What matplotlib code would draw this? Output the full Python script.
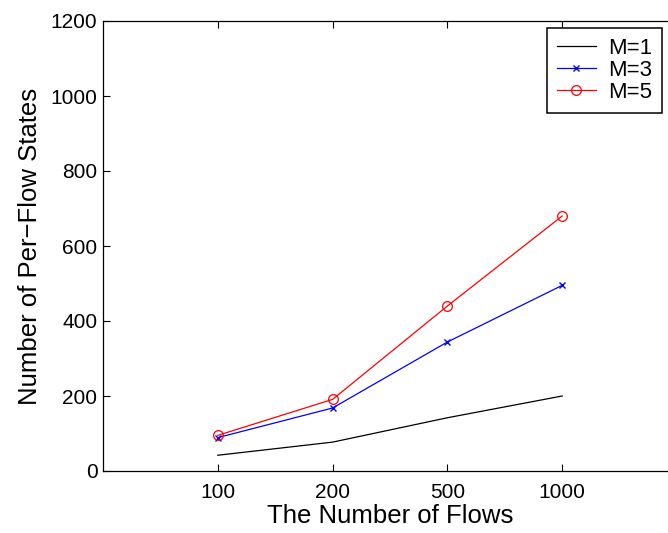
import matplotlib
matplotlib.use("Agg")
import matplotlib.pyplot as plt

flows = ["100", "200", "500", "1000"]
m1 = [42, 77, 142, 200]
m3 = [89, 168, 344, 495]
m5 = [95, 191, 440, 680]

plt.rcParams["font.family"] = ["Liberation Sans", "DejaVu Sans"]

fig = plt.figure(figsize=(6.68, 5.33), dpi=100)
ax = fig.add_axes([103 / 668, 62 / 533, 574 / 668, 450 / 533])

pos = range(1, len(flows) + 1)
ax.plot(pos, m1, color="black", lw=0.9, label="M=1")
ax.plot(pos, m3, color="blue", lw=0.9, marker="x", ms=5, mew=1, label="M=3")
ax.plot(pos, m5, color="red", lw=0.9, marker="o", ms=7, mfc="none", mew=0.9, label="M=5")

ax.set_xlim(0, 5)
ax.set_ylim(0, 1200)
ax.set_xticks(list(pos))
ax.set_xticklabels(flows)
ax.set_yticks(range(0, 1201, 200))
ax.tick_params(direction="in", top=True, right=True, labelsize=15, length=5, width=0.8)
ax.tick_params(axis="x", pad=9)
ax.tick_params(axis="y", pad=4)
for s in ax.spines.values():
    s.set_linewidth(0.9)

ax.set_xlabel("The Number of Flows", fontsize=18.5, labelpad=1)
ax.set_ylabel("Number of Per\u2212Flow States", fontsize=18.5, labelpad=6)

leg = ax.legend(loc="upper left", bbox_to_anchor=(444 / 574, 1 - 7 / 450), fontsize=16,
                fancybox=False, edgecolor="black", framealpha=1, handlelength=1.75,
                borderaxespad=0, borderpad=0.45, labelspacing=0.05, handletextpad=0.55,
                handleheight=0.7)
leg.get_frame().set_linewidth(1.1)

fig.savefig("out.png", dpi=100, facecolor="white")
